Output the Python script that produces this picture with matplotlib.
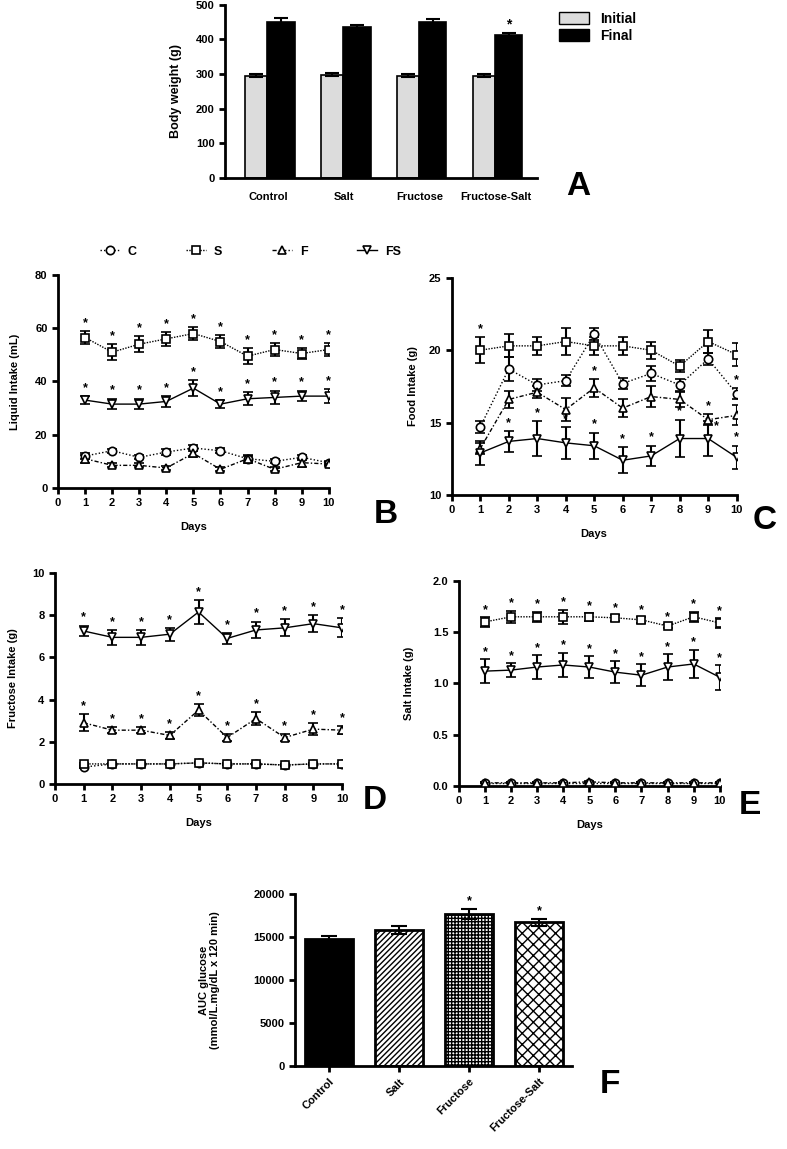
import numpy as np
import matplotlib.pyplot as plt
from matplotlib.patches import Patch
from matplotlib.lines import Line2D

plt.rcParams['font.family'] = ['Liberation Sans', 'DejaVu Sans']
plt.rcParams['font.weight'] = 'bold'
plt.rcParams['axes.labelweight'] = 'bold'
plt.rcParams['hatch.linewidth'] = 1.0

groups = ["Control", "Salt", "Fructose", "Fructose-Salt"]
days = np.arange(1, 11)

# A - body weight
bw_initial = [295, 298, 295, 295]
bw_initial_err = [5, 5, 5, 5]
bw_final = [450, 434, 450, 412]
bw_final_err = [10, 8, 8, 6]

# B - liquid intake (mL)
liq_C = [12, 14, 11.5, 13.5, 15, 14, 11, 10, 11.5, 9.5]
liq_C_err = [1, 0.8, 0.8, 1, 1, 1, 1, 0.8, 1, 0.8]
liq_S = [56.5, 51, 54, 56, 58, 55, 49.5, 52, 50.5, 52]
liq_S_err = [2.5, 3, 3, 2.5, 2.5, 2.5, 3, 2.5, 2, 2.5]
liq_F = [11, 8.5, 8.5, 7.5, 13, 7, 11, 7, 9.5, 9]
liq_F_err = [1.5, 0.8, 0.8, 0.8, 1.5, 0.8, 1.5, 0.8, 1.5, 0.8]
liq_FS = [33, 31.5, 31.5, 32.5, 37.5, 31.5, 33.5, 34, 34.5, 34.5]
liq_FS_err = [1.5, 2, 2, 2, 3, 1.5, 2.5, 2.5, 2, 2.5]

# C - food intake (g)
food_C = [14.7, 18.7, 17.6, 17.9, 21.1, 17.7, 18.4, 17.6, 19.4, 17.0]
food_C_err = [0.4, 0.8, 0.4, 0.4, 0.4, 0.4, 0.5, 0.4, 0.4, 0.4]
food_S = [20.0, 20.3, 20.3, 20.6, 20.3, 20.3, 20.0, 18.9, 20.6, 19.7]
food_S_err = [0.9, 0.8, 0.6, 0.9, 0.6, 0.6, 0.6, 0.4, 0.8, 0.8]
food_F = [13.2, 16.6, 17.1, 15.9, 17.4, 16.0, 16.8, 16.6, 15.2, 15.5]
food_F_err = [0.4, 0.6, 0.4, 0.8, 0.6, 0.6, 0.7, 0.5, 0.4, 0.7]
food_FS = [12.9, 13.7, 13.9, 13.6, 13.4, 12.4, 12.7, 13.9, 13.9, 12.6]
food_FS_err = [0.8, 0.7, 1.2, 1.1, 0.9, 0.9, 0.7, 1.3, 1.2, 0.8]

# D - fructose intake (g)
fru_C = [0.8, 0.95, 0.95, 0.95, 1.0, 0.95, 0.95, 0.9, 0.95, 0.95]
fru_C_err = [0.05] * 10
fru_S = [0.95, 0.95, 0.95, 0.95, 1.0, 0.95, 0.95, 0.9, 0.95, 0.95]
fru_S_err = [0.05] * 10
fru_F = [2.9, 2.55, 2.55, 2.3, 3.5, 2.2, 3.1, 2.2, 2.6, 2.55]
fru_F_err = [0.4, 0.15, 0.15, 0.15, 0.3, 0.15, 0.3, 0.15, 0.3, 0.2]
fru_FS = [7.25, 6.95, 6.95, 7.1, 8.15, 6.9, 7.3, 7.4, 7.6, 7.4]
fru_FS_err = [0.25, 0.35, 0.35, 0.3, 0.55, 0.25, 0.4, 0.4, 0.4, 0.45]

# E - salt intake (g)
salt_C = [0.03] * 10
salt_C_err = [0.005] * 10
salt_S = [1.60, 1.65, 1.65, 1.65, 1.65, 1.64, 1.62, 1.56, 1.65, 1.59]
salt_S_err = [0.05, 0.06, 0.05, 0.07, 0.04, 0.03, 0.03, 0.02, 0.05, 0.05]
salt_F = [0.03, 0.03, 0.03, 0.03, 0.04, 0.03, 0.03, 0.03, 0.03, 0.03]
salt_F_err = [0.005] * 10
salt_FS = [1.12, 1.13, 1.16, 1.18, 1.16, 1.11, 1.08, 1.16, 1.19, 1.06]
salt_FS_err = [0.12, 0.07, 0.12, 0.12, 0.11, 0.11, 0.11, 0.13, 0.14, 0.12]

# F - AUC glucose
auc = [14800, 15800, 17700, 16700]
auc_err = [300, 450, 600, 450]

fig = plt.figure(figsize=(7.87, 11.49), dpi=100)

TICK_FS = 8


def style_axes(ax):
    for s in ['top', 'right']:
        ax.spines[s].set_visible(False)
    for s in ['left', 'bottom']:
        ax.spines[s].set_linewidth(2)
    ax.tick_params(width=2, length=4, labelsize=TICK_FS)
    for lab in ax.get_xticklabels() + ax.get_yticklabels():
        lab.set_fontweight('bold')


# ---------- A ----------
axA = fig.add_axes([0.286, 0.845, 0.396, 0.151])
xg = np.arange(len(groups))
axA.bar(xg - 0.16, bw_initial, 0.29, color='#dcdcdc', edgecolor='black', linewidth=1.2,
        yerr=bw_initial_err, error_kw=dict(elinewidth=1.5, capsize=5, capthick=1.5))
axA.bar(xg + 0.17, bw_final, 0.36, color='black', edgecolor='black', linewidth=1.2,
        yerr=bw_final_err, error_kw=dict(elinewidth=1.5, capsize=5, capthick=1.5))
axA.text(xg[3] + 0.17, bw_final[3] + bw_final_err[3] + 4, '*', ha='center', va='bottom',
         fontsize=10, fontweight='bold')
axA.set_xlim(-0.566, 3.54)
axA.set_ylim(0, 500)
axA.set_yticks([0, 100, 200, 300, 400, 500])
axA.set_xticks(xg)
axA.set_xticklabels(groups)
axA.set_ylabel('Body weight (g)', fontsize=9, labelpad=10)
style_axes(axA)
axA.tick_params(axis='x', length=0, pad=10)
axA.legend(handles=[Patch(facecolor='#dcdcdc', edgecolor='black', label='Initial'),
                    Patch(facecolor='black', edgecolor='black', label='Final')],
           loc='upper left', bbox_to_anchor=(1.03, 1.03), frameon=False,
           prop=dict(size=10, weight='bold'), handlelength=2.2, handleheight=1.0,
           labelspacing=0.2)
fig.text(0.735, 0.838, 'A', fontsize=24, fontweight='bold', ha='center', va='center')

# ---------- line panels ----------
series_style = {
    'C': dict(marker='o', ls=(0, (1, 1.5))),
    'S': dict(marker='s', ls=(0, (1, 1))),
    'F': dict(marker='^', ls=(0, (3, 1.5, 1, 1.5))),
    'FS': dict(marker='v', ls='-'),
}


def line_panel(rect, data, ylim, yticks, ylabel, stars, letter, letter_pos, ylabel_x,
               star_off, yfmt=None, star_shift=None):
    ax = fig.add_axes(rect)
    star_shift = star_shift or {}
    for key, (vals, errs) in data.items():
        st = series_style[key]
        ax.errorbar(days, vals, yerr=errs, color='black', ls=st['ls'], lw=1.0,
                    marker=st['marker'], markersize=6, markerfacecolor='white',
                    markeredgecolor='black', markeredgewidth=1.2,
                    elinewidth=1.5, capsize=3.5, capthick=1.5, zorder=3)
        for d in stars.get(key, []):
            i = d - 1
            dx, dy = star_shift.get((key, d), (0, 0))
            ax.text(days[i] + dx, vals[i] + errs[i] + star_off + dy, '*', ha='center',
                    va='bottom', fontsize=9, fontweight='bold')
    ax.set_xlim(0, 10)
    ax.set_ylim(*ylim)
    ax.set_xticks(range(0, 11))
    ax.set_yticks(yticks)
    if yfmt:
        ax.set_yticklabels([yfmt.format(v) for v in yticks])
    ax.set_xlabel('Days', fontsize=8, labelpad=10)
    ax.set_ylabel(ylabel, fontsize=8)
    ax.yaxis.set_label_coords(ylabel_x, 0.5)
    style_axes(ax)
    fig.text(letter_pos[0], letter_pos[1], letter, fontsize=24, fontweight='bold',
             ha='center', va='center')
    return ax


line_panel([0.0737, 0.5753, 0.344, 0.1854],
           {'C': (liq_C, liq_C_err), 'S': (liq_S, liq_S_err),
            'F': (liq_F, liq_F_err), 'FS': (liq_FS, liq_FS_err)},
           (0, 80), [0, 20, 40, 60, 80], 'Liquid Intake (mL)',
           {'S': list(days), 'FS': list(days)}, 'B', (0.49, 0.552), -0.14, 0.8)

line_panel([0.574, 0.5692, 0.362, 0.189],
           {'C': (food_C, food_C_err), 'S': (food_S, food_S_err),
            'F': (food_F, food_F_err), 'FS': (food_FS, food_FS_err)},
           (10, 25), [10, 15, 20, 25], 'Food Intake (g)',
           {'S': [1], 'C': [10], 'F': [5, 9], 'FS': list(days[1:])}, 'C', (0.972, 0.547),
           -0.12, 0.15, star_shift={('FS', 9): (0.3, -0.9)})

line_panel([0.0699, 0.3177, 0.3647, 0.1836],
           {'C': (fru_C, fru_C_err), 'S': (fru_S, fru_S_err),
            'F': (fru_F, fru_F_err), 'FS': (fru_FS, fru_FS_err)},
           (0, 10), [0, 2, 4, 6, 8, 10], 'Fructose Intake (g)',
           {'F': list(days), 'FS': list(days)}, 'D', (0.476, 0.303), -0.13, 0.1)

line_panel([0.583, 0.316, 0.3316, 0.1784],
           {'C': (salt_C, salt_C_err), 'S': (salt_S, salt_S_err),
            'F': (salt_F, salt_F_err), 'FS': (salt_FS, salt_FS_err)},
           (0, 2.0), [0, 0.5, 1.0, 1.5, 2.0], 'Salt Intake (g)',
           {'S': list(days), 'FS': list(days)}, 'E', (0.953, 0.299), -0.17, 0.01,
           yfmt='{:.1f}')

# shared legend
handles = [Line2D([], [], color='black', ls=series_style[k]['ls'], lw=1.0,
                  marker=series_style[k]['marker'], markersize=6,
                  markerfacecolor='white', markeredgecolor='black',
                  markeredgewidth=1.2, label=k) for k in ['C', 'S', 'F', 'FS']]
fig.legend(handles=handles, loc='center', bbox_to_anchor=(0.318, 0.781), ncol=4,
           frameon=False, prop=dict(size=9, weight='bold'), handlelength=1.6,
           columnspacing=4.0, handletextpad=0.6)

# ---------- F ----------
axF = fig.add_axes([0.3748, 0.0722, 0.352, 0.1497])
hatches = ['', '//////', '+++++', 'xxx']
xf = np.arange(len(groups))
for i in range(len(groups)):
    fc = 'black' if i == 0 else 'white'
    axF.bar(xf[i], auc[i], 0.69, color=fc, edgecolor='black', linewidth=2,
            hatch=hatches[i], yerr=auc_err[i],
            error_kw=dict(elinewidth=1.5, capsize=6, capthick=1.5, ecolor='black'))
for i in [2, 3]:
    axF.text(xf[i], auc[i] + auc_err[i] + 150, '*', ha='center', va='bottom',
             fontsize=9, fontweight='bold')
axF.set_xlim(-0.49, 3.47)
axF.set_ylim(0, 20000)
axF.set_yticks([0, 5000, 10000, 15000, 20000])
axF.set_xticks(xf)
axF.set_xticklabels(groups, rotation=45, ha='right', rotation_mode='anchor')
axF.set_ylabel('AUC glucose\n(mmol/L.mg/dL x 120 min)', fontsize=8)
axF.yaxis.set_label_coords(-0.27, 0.5)
style_axes(axF)
fig.text(0.775, 0.056, 'F', fontsize=24, fontweight='bold', ha='center', va='center')

fig.savefig('out.png', dpi=100)
